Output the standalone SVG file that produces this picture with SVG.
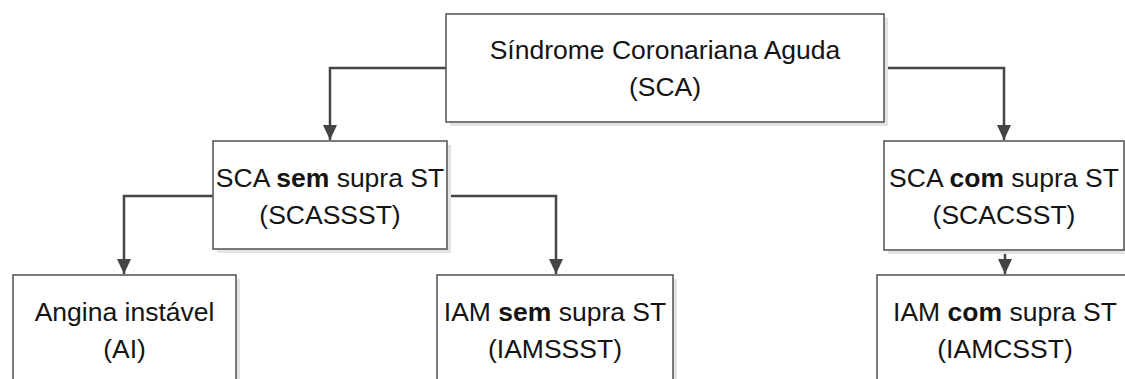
<svg xmlns="http://www.w3.org/2000/svg" width="1125" height="379" viewBox="0 0 1125 379">
<style>
.box{fill:#ffffff;stroke:#5a5a5a;stroke-width:1.6}
.shadow{fill:#e3e3e3}
.t{font-family:"Liberation Sans",Arial,sans-serif;font-size:26.5px;fill:#141414;text-anchor:middle}
.b{font-weight:bold}
.conn{fill:none;stroke:#444444;stroke-width:2.5}
</style>
<defs>
<marker id="arr" markerUnits="userSpaceOnUse" markerWidth="16" markerHeight="16" viewBox="0 0 16 16" refX="15" refY="8" orient="auto">
<path d="M0,1 L15,8 L0,15 Z" fill="#444444"/>
</marker>
</defs>
<rect width="1125" height="379" fill="#ffffff"/>
<g id="connectors">
<path class="conn" d="M446,68 H330 V140" marker-end="url(#arr)"/>
<path class="conn" d="M884,68 H1004 V140" marker-end="url(#arr)"/>
<path class="conn" d="M213,196 H124 V274" marker-end="url(#arr)"/>
<path class="conn" d="M447,196 H556 V274" marker-end="url(#arr)"/>
<path class="conn" d="M1005,250 V274" marker-end="url(#arr)"/>
</g>
<g id="sca">
<rect class="shadow" x="450" y="18" width="438" height="108"/>
<rect class="box" x="446" y="14" width="438" height="108"/>
<text class="t" x="665" y="59">Síndrome Coronariana Aguda</text>
<text class="t" x="665" y="96">(SCA)</text>
</g>
<g id="scassst">
<rect class="shadow" x="217" y="145" width="234" height="108"/>
<rect class="box" x="213" y="141" width="234" height="108"/>
<text class="t" x="330" y="187">SCA <tspan class="b">sem</tspan> supra ST</text>
<text class="t" x="330" y="224">(SCASSST)</text>
</g>
<g id="scacsst">
<rect class="shadow" x="888" y="145" width="240" height="109"/>
<rect class="box" x="884" y="141" width="240" height="109"/>
<text class="t" x="1004" y="187">SCA <tspan class="b">com</tspan> supra ST</text>
<text class="t" x="1004" y="224">(SCACSST)</text>
</g>
<g id="ai">
<rect class="shadow" x="17" y="279" width="223" height="110"/>
<rect class="box" x="13" y="275" width="223" height="110"/>
<text class="t" x="124.5" y="321">Angina instável</text>
<text class="t" x="124.5" y="358">(AI)</text>
</g>
<g id="iamssst">
<rect class="shadow" x="441" y="279" width="236" height="110"/>
<rect class="box" x="437" y="275" width="236" height="110"/>
<text class="t" x="555" y="321">IAM <tspan class="b">sem</tspan> supra ST</text>
<text class="t" x="555" y="358">(IAMSSST)</text>
</g>
<g id="iamcsst">
<rect class="shadow" x="881" y="279" width="260" height="110"/>
<rect class="box" x="877" y="275" width="260" height="110"/>
<text class="t" x="1005" y="321">IAM <tspan class="b">com</tspan> supra ST</text>
<text class="t" x="1005" y="358">(IAMCSST)</text>
</g>
</svg>
